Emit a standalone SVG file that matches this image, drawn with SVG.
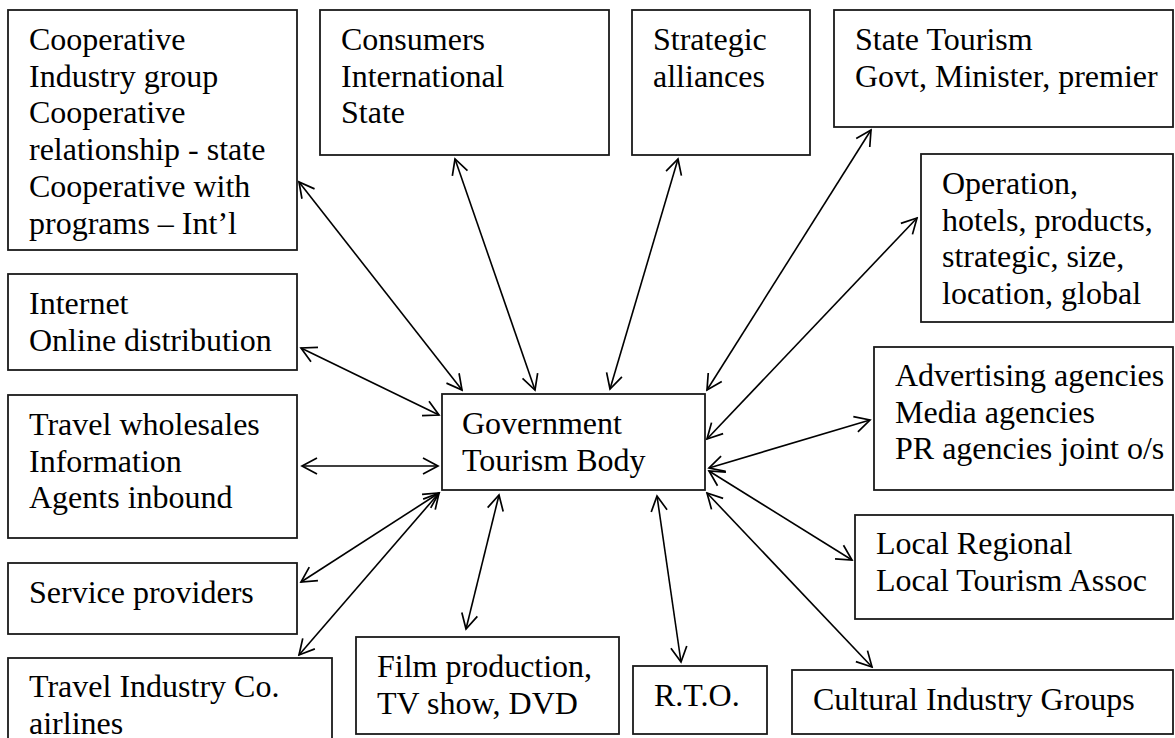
<svg xmlns="http://www.w3.org/2000/svg" width="1175" height="738" viewBox="0 0 1175 738">
  <defs>
    <style>
      .box { fill: #ffffff; stroke: #1a1a1a; stroke-width: 1.8; }
      .lbl { font-family: "Liberation Serif", "Times New Roman", serif; font-size: 32px; fill: #000000; }
      .link { fill: none; stroke: #000000; stroke-width: 1.6; marker-start: url(#head); marker-end: url(#head); }
    </style>
    <!-- open V arrowhead, used at both ends of every link -->
    <marker id="head" viewBox="0 0 20 20" refX="18" refY="10" markerWidth="20" markerHeight="20" markerUnits="userSpaceOnUse" orient="auto-start-reverse">
      <path d="M3,2 L18,10 L3,18" fill="none" stroke="#000000" stroke-width="1.7"/>
    </marker>
  </defs>
  <rect width="1175" height="738" fill="#ffffff"/>

  <g id="connectors">
    <line class="link" x1="299" y1="182" x2="462" y2="390"/>
    <line class="link" x1="455" y1="159" x2="535" y2="390"/>
    <line class="link" x1="678" y1="159" x2="610" y2="389"/>
    <line class="link" x1="871" y1="130" x2="707" y2="390"/>
    <line class="link" x1="917" y1="218" x2="707" y2="439"/>
    <line class="link" x1="870" y1="420" x2="709" y2="468"/>
    <line class="link" x1="852" y1="560" x2="709" y2="471"/>
    <line class="link" x1="872" y1="667" x2="707" y2="493"/>
    <line class="link" x1="681" y1="662" x2="657" y2="496"/>
    <line class="link" x1="466" y1="629" x2="499" y2="495"/>
    <line class="link" x1="299" y1="655" x2="439" y2="493"/>
    <line class="link" x1="301" y1="582" x2="439" y2="493"/>
    <line class="link" x1="302" y1="466" x2="438" y2="466"/>
    <line class="link" x1="301" y1="348" x2="439" y2="415"/>
  </g>

  <g id="cooperative">
    <rect class="box" x="8" y="10" width="289" height="240"/>
    <text class="lbl" x="29" y="50">Cooperative<tspan x="29" dy="36.7">Industry group</tspan><tspan x="29" dy="36.7">Cooperative</tspan><tspan x="29" dy="36.7">relationship - state</tspan><tspan x="29" dy="36.7">Cooperative with</tspan><tspan x="29" dy="36.7">programs – Int’l</tspan></text>
  </g>
  <g id="consumers">
    <rect class="box" x="320" y="10" width="289" height="145"/>
    <text class="lbl" x="341" y="50">Consumers<tspan x="341" dy="36.7">International</tspan><tspan x="341" dy="36.7">State</tspan></text>
  </g>
  <g id="strategic">
    <rect class="box" x="632" y="10" width="178" height="145"/>
    <text class="lbl" x="653" y="50">Strategic<tspan x="653" dy="36.7">alliances</tspan></text>
  </g>
  <g id="state-tourism">
    <rect class="box" x="834" y="10" width="339" height="117"/>
    <text class="lbl" x="855" y="50">State Tourism<tspan x="855" dy="36.7">Govt, Minister, premier</tspan></text>
  </g>
  <g id="operation">
    <rect class="box" x="921" y="154" width="252" height="168"/>
    <text class="lbl" x="942" y="194">Operation,<tspan x="942" dy="36.7">hotels, products,</tspan><tspan x="942" dy="36.7">strategic, size,</tspan><tspan x="942" dy="36.7">location, global</tspan></text>
  </g>
  <g id="agencies">
    <rect class="box" x="874" y="347" width="299" height="143"/>
    <text class="lbl" x="895" y="386">Advertising agencies<tspan x="895" dy="36.7">Media agencies</tspan><tspan x="895" dy="36.7">PR agencies joint o/s</tspan></text>
  </g>
  <g id="local">
    <rect class="box" x="855" y="515" width="318" height="104"/>
    <text class="lbl" x="876" y="554">Local Regional<tspan x="876" dy="36.7">Local Tourism Assoc</tspan></text>
  </g>
  <g id="cultural">
    <rect class="box" x="792" y="670" width="381" height="64"/>
    <text class="lbl" x="813" y="710">Cultural Industry Groups</text>
  </g>
  <g id="rto">
    <rect class="box" x="633" y="666" width="134" height="68"/>
    <text class="lbl" x="654" y="706">R.T.O.</text>
  </g>
  <g id="film">
    <rect class="box" x="356" y="637" width="263" height="97"/>
    <text class="lbl" x="377" y="677">Film production,<tspan x="377" dy="36.7">TV show, DVD</tspan></text>
  </g>
  <g id="travel-industry">
    <rect class="box" x="8" y="658" width="324" height="90"/>
    <text class="lbl" x="29" y="697">Travel Industry Co.<tspan x="29" dy="36.7">airlines</tspan></text>
  </g>
  <g id="service">
    <rect class="box" x="8" y="563" width="289" height="71"/>
    <text class="lbl" x="29" y="603">Service providers</text>
  </g>
  <g id="wholesales">
    <rect class="box" x="8" y="395" width="289" height="143"/>
    <text class="lbl" x="29" y="435">Travel wholesales<tspan x="29" dy="36.7">Information</tspan><tspan x="29" dy="36.7">Agents inbound</tspan></text>
  </g>
  <g id="internet">
    <rect class="box" x="8" y="274" width="289" height="96"/>
    <text class="lbl" x="29" y="314">Internet<tspan x="29" dy="36.7">Online distribution</tspan></text>
  </g>
  <g id="government">
    <rect class="box" x="442" y="394" width="263" height="96"/>
    <text class="lbl" x="462" y="434">Government<tspan x="462" dy="36.7">Tourism Body</tspan></text>
  </g>
</svg>
